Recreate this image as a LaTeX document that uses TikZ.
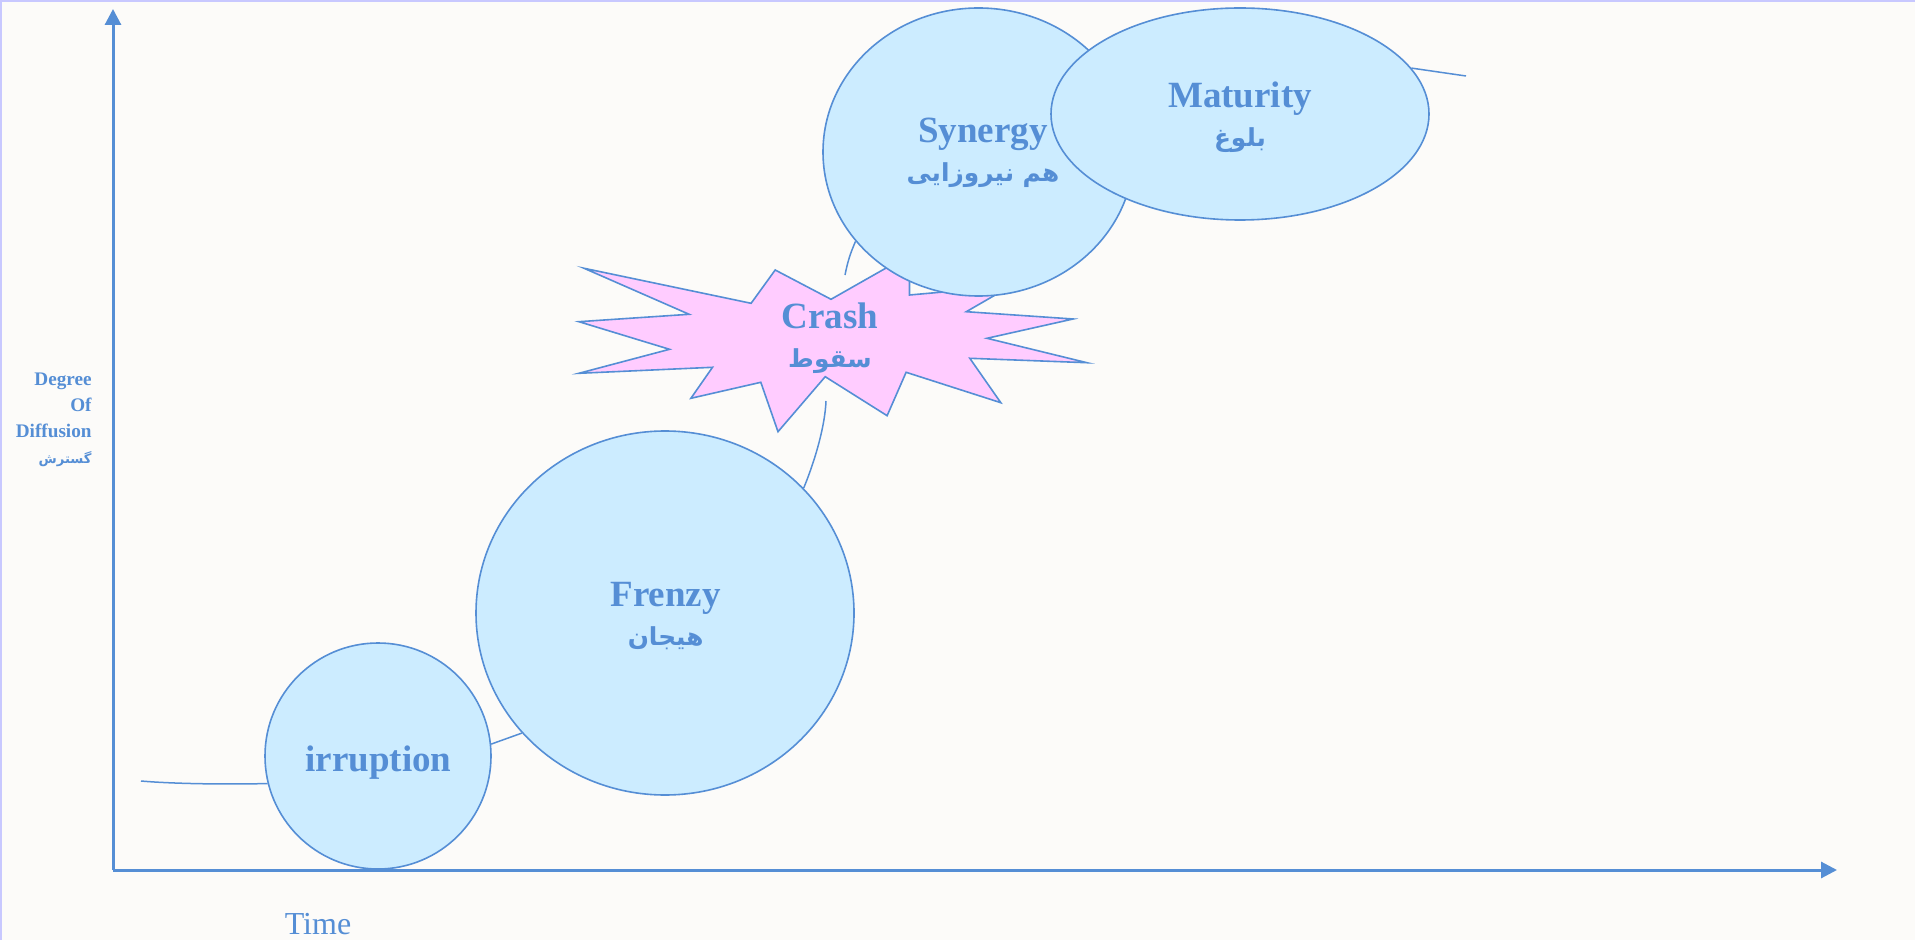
\documentclass[tikz,border=0pt]{standalone}
\usepackage{fontspec}
\setmainfont{Liberation Serif}
\newfontfamily\arabicfont[Script=Arabic]{DejaVu Sans}
\TeXXeTstate=1
\usetikzlibrary{shapes.geometric,arrows.meta}
\definecolor{bgc}{HTML}{FCFBF9}
\definecolor{edgec}{HTML}{558ED5}
\definecolor{bubblec}{HTML}{CCECFF}
\definecolor{burstc}{HTML}{FFCCFF}
\definecolor{framec}{HTML}{C8C8FF}
\newcommand{\artext}[1]{{\arabicfont\fontsize{12.4}{14}\selectfont\beginR #1\endR}}
\newcommand{\arsmall}[1]{{\arabicfont\fontsize{6.6}{8}\selectfont\beginR #1\endR}}
\begin{document}
\begin{tikzpicture}[x=0.5pt,y=-0.5pt,
  bubblestyle/.style={ellipse, draw=edgec, fill=bubblec, line width=0.8pt, inner sep=0pt},
  labeltext/.style={text=edgec, align=center, inner sep=0pt, anchor=north, font=\bfseries\fontsize{18.5}{19.5}\selectfont},
  link/.style={draw=edgec, line width=0.75pt},
  axisline/.style={draw=edgec, line width=1.5pt, -{Triangle[length=8pt,width=8pt]}}
]
\fill[bgc] (0,0) rectangle (1915,940);
\useasboundingbox (0,0) rectangle (1915,940);
\draw[framec, line width=1pt] (1,940) -- (1,1) -- (1915,1);

% axes
\coordinate (o) at (113,870);
\coordinate (ytip) at (113,9);
\coordinate (xtip) at (1837,870);
\draw[axisline] (o) -- (ytip);
\draw[axisline] (o) -- (xtip);

% axis labels
\node[text=edgec, align=right, inner sep=0pt, anchor=north east,
      font=\bfseries\fontsize{9.6}{13}\selectfont] (ylab) at (92,373)
      {Degree\\Of\\Diffusion\\\arsmall{گسترش}};
\node[text=edgec, inner sep=0pt, font=\fontsize{16}{19}\selectfont] (time) at (318,924) {Time};

% stages
\node[bubblestyle, minimum width=113pt, minimum height=113pt] (irr) at (378,756) {};
\node[labeltext, anchor=base] (irrtext) at (378.5,771) {irruption};
\node[bubblestyle, minimum width=189pt, minimum height=182pt] (fre) at (665,613) {};
\node[labeltext] (fretext) at (665.6,582) {Frenzy\\\artext{هیجان}};

\filldraw[draw=edgec, fill=burstc, line width=0.8pt, line join=miter]
  (584.1,268.3) -- (751.1,303.3) -- (775.2,270.0) -- (831.0,299.3) --
  (909.5,254.7) -- (909.5,295.0) -- (1010.8,286.0) -- (966.3,311.7) --
  (1073.1,319.0) -- (987.0,338.3) -- (1086.9,362.7) -- (969.8,358.3) --
  (1000.8,402.7) -- (906.1,372.3) -- (887.1,415.7) -- (825.2,376.7) --
  (778.0,431.7) -- (760.8,382.3) -- (690.9,398.3) -- (712.5,367.3) --
  (578.9,373.3) -- (669.5,349.3) -- (578.9,321.7) -- (689.1,314.3) -- cycle;
\node[labeltext] (crash) at (830,302) {Crash\\\artext{سقوط}};

\node[bubblestyle, minimum width=155.5pt, minimum height=144pt] (syn) at (978.5,152) {};
\node[labeltext] (syntext) at (983,118) {Synergy\\\artext{هم نیروزایی}};
\node[bubblestyle, minimum width=189pt, minimum height=106pt] (mat) at (1240,114) {};
\node[labeltext] (mattext) at (1240,81) {Maturity\\\artext{بلوغ}};

% diffusion curve pieces
\coordinate (s0) at (141,781);
\draw[link] (s0) .. controls (175,784) and (230,784.5) .. (irr.194);
\draw[link] (irr.6) -- (fre.220);
\coordinate (s1) at (826,401);
\draw[link] (fre.42) .. controls (816,458) and (825,425) .. (s1);
\coordinate (s2) at (845,275);
\draw[link] (s2) to[bend left=6] (syn.216);
\coordinate (s3) at (1466,76);
\draw[link] (mat.15) -- (s3);
\end{tikzpicture}
\end{document}
